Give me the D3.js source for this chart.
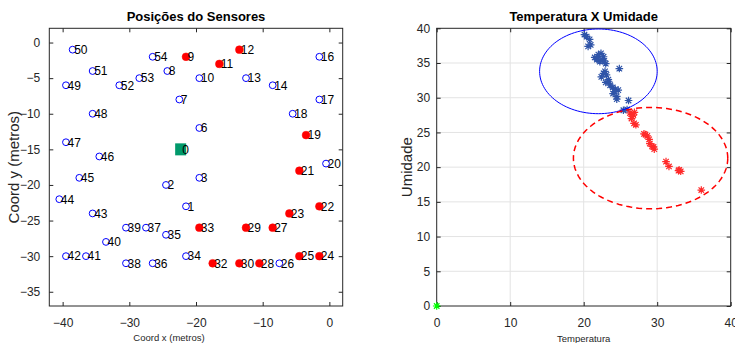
<!DOCTYPE html>
<html>
<head>
<meta charset="utf-8">
<script src="https://cdn.jsdelivr.net/npm/d3@7"></script>
<style>
body { margin: 0; background: #fff; }
text { font-family: "Liberation Sans", Arial, sans-serif; }
</style>
</head>
<body>
<div id="chart"></div>
<script>
// --- sensor layout (left panel) ---
const sensorId = [1, 2, 3, 6, 7, 8, 9, 10, 11, 12, 13, 14, 16, 17, 18, 19, 20, 21, 22, 23, 24, 25, 26, 27, 28, 29, 30,
                  32, 33, 34, 35, 36, 37, 38, 39, 40, 41, 42, 43, 44, 45, 46, 47, 48, 49, 50, 51, 52, 53, 54];
const sensorX = [-21.5, -24.5, -19.5, -19.5, -22.5, -24.3, -21.5, -19.5, -16.5, -13.5, -12.5, -8.5, -1.5, -1.5, -5.5,
                 -3.5, -0.5, -4.5, -1.5, -6, -1.5, -4.5, -7.5, -8.5, -10.5, -12.5, -13.5,
                 -17.5, -19.5, -21.5, -24.5, -26.5, -27.5, -30.5, -30.5, -33.5, -36.5, -39.5, -35.5, -40.5,
                 -37.5, -34.5, -39.5, -35.5, -39.5, -38.5, -35.5, -31.5, -28.5, -26.5];
const sensorY = [-23, -20, -19, -12, -8, -4, -2, -5, -3, -1, -5, -6, -2, -8, -10,
                 -13, -17, -18, -23, -24, -30, -30, -31, -26, -31, -26, -31,
                 -31, -26, -30, -27, -31, -26, -31, -26, -28, -30, -30, -24, -22,
                 -19, -16, -14, -10, -6, -1, -4, -6, -5, -2];
const activeSensors = [9, 11, 12, 19, 21, 22, 23, 24, 25, 27, 28, 29, 30, 32, 33];
const sinkId = 0;
const sinkPos = [-22.3, -15];

const leftXTicks = [-40, -30, -20, -10, 0];
const leftYTicks = [0, -5, -10, -15, -20, -25, -30, -35];

// --- temperature x humidity (right panel) ---
const blueTemp = [20.1, 20.4, 20.8, 20.6, 20.95, 21.5, 21.8, 22.0, 22.35, 22.7, 22.2, 21.9, 22.5, 23.0, 22.8, 24.85,
                  22.4, 22.7, 23.1, 22.9, 23.35, 23.0, 23.6, 23.4, 23.95, 24.3, 24.7, 24.0, 24.5, 24.2, 24.5, 26.1, 25.4, 25.9];
const blueHum = [39.1, 38.8, 38.4, 37.4, 37.6, 35.8, 35.5, 36.2, 36.4, 35.9, 35.2, 35.6, 35.5, 34.9, 35.3, 34.2,
                 33.0, 33.5, 33.3, 33.8, 32.6, 32.2, 31.8, 32.3, 31.5, 31.2, 31.1, 30.6, 30.2, 30.9, 29.8, 29.6, 28.2, 28.3];
const redTemp = [26.3, 26.75, 26.5, 26.9, 26.6, 26.85, 27.1, 28.2, 28.65, 28.4, 28.9, 29.0, 29.3, 29.5, 29.6,
                 31.2, 31.6, 32.9, 33.2, 33.0, 36.0];
const redHum = [27.8, 27.5, 27.0, 27.9, 27.3, 26.3, 26.1, 24.8, 24.5, 24.7, 24.0, 23.4, 23.0, 22.9, 22.6,
                20.8, 20.1, 19.5, 19.4, 19.6, 16.7];
const greenTemp = [0];
const greenHum = [0];
// cluster ellipses: [centre temp, centre hum, radius temp, radius hum]
const blueEllipse = [22, 33.8, 8, 6.1];
const redEllipse = [29.1, 21.3, 10.5, 7.3];

const rightXTicks = [0, 10, 20, 30, 40];
const rightYTicks = [0, 5, 10, 15, 20, 25, 30, 35, 40];

const width = 735, height = 343;
const axisColor = "#262626";

const svg = d3.select("#chart").append("svg")
    .attr("width", width)
    .attr("height", height)
    .style("display", "block");

// scales
const xL = d3.scaleLinear().domain([-42, 2]).range([49.3, 342.7]);
const yL = d3.scaleLinear().domain([-37, 2]).range([306, 28.3]);
const xR = d3.scaleLinear().domain([0, 40]).range([436.7, 730.7]);
const yR = d3.scaleLinear().domain([0, 40]).range([306, 28.3]);

function styleAxis(g) {
    g.select(".domain").remove();
    g.selectAll("line").attr("stroke", axisColor);
    g.selectAll("text").attr("fill", axisColor).style("font-size", "12px")
        .style("font-family", '"Liberation Sans", Arial, sans-serif');
}

function drawFrame(x, y, xTicks, yTicks, yPad) {
    const [x0, x1] = x.range(), [y0, y1] = y.range();
    svg.append("g").attr("transform", `translate(0,${y0})`)
        .call(d3.axisBottom(x).tickValues(xTicks).tickSizeInner(-4).tickSizeOuter(0).tickPadding(12))
        .call(styleAxis);
    svg.append("g").attr("transform", `translate(0,${y1})`)
        .call(d3.axisTop(x).tickValues(xTicks).tickSizeInner(-4).tickSizeOuter(0).tickFormat(""))
        .call(styleAxis);
    svg.append("g").attr("transform", `translate(${x0},0)`)
        .call(d3.axisLeft(y).tickValues(yTicks).tickSizeInner(-4).tickSizeOuter(0).tickPadding(yPad))
        .call(styleAxis);
    svg.append("g").attr("transform", `translate(${x1},0)`)
        .call(d3.axisRight(y).tickValues(yTicks).tickSizeInner(-4).tickSizeOuter(0).tickFormat(""))
        .call(styleAxis);
    svg.append("rect")
        .attr("x", x0).attr("y", y1)
        .attr("width", x1 - x0).attr("height", y0 - y1)
        .attr("fill", "none").attr("stroke", axisColor).attr("stroke-width", 1);
}

// ---------- left panel ----------
const sensors = sensorId.map((id, i) => ({id, x: sensorX[i], y: sensorY[i], on: activeSensors.includes(id)}));

drawFrame(xL, yL, leftXTicks, leftYTicks, 9);

const gS = svg.append("g");
gS.selectAll("circle")
    .data(sensors)
    .join("circle")
    .attr("cx", d => xL(d.x))
    .attr("cy", d => yL(d.y))
    .attr("r", d => d.on ? 3.9 : 3.4)
    .attr("fill", d => d.on ? "#ff0000" : "none")
    .attr("stroke", d => d.on ? "#ff0000" : "#0000ff")
    .attr("stroke-width", d => d.on ? 0.5 : 1);

gS.append("rect")
    .attr("x", xL(sinkPos[0]) - 5.5)
    .attr("y", yL(sinkPos[1]) - 6)
    .attr("width", 11).attr("height", 12)
    .attr("fill", "#00996b");

gS.selectAll("text")
    .data(sensors.concat([{id: sinkId, x: sinkPos[0], y: sinkPos[1]}]))
    .join("text")
    .attr("x", d => xL(d.x) + 1.5)
    .attr("y", d => yL(d.y))
    .attr("dy", "0.36em")
    .style("font-size", "12px")
    .attr("fill", "#000")
    .text(d => d.id);

svg.append("text")
    .attr("x", (xL.range()[0] + xL.range()[1]) / 2).attr("y", 21)
    .attr("text-anchor", "middle")
    .style("font-size", "13px").style("font-weight", "bold")
    .text("Posições do Sensores");

svg.append("text")
    .attr("x", 169).attr("y", 341)
    .attr("text-anchor", "middle")
    .attr("fill", axisColor)
    .style("font-size", "9.5px")
    .text("Coord x (metros)");

svg.append("text")
    .attr("transform", `translate(19,${(yL.range()[0] + yL.range()[1]) / 2}) rotate(-90)`)
    .attr("text-anchor", "middle")
    .attr("fill", axisColor)
    .style("font-size", "15px")
    .text("Coord y (metros)");

// ---------- right panel ----------
const gGrid = svg.append("g").attr("stroke", "#e3e3e3").attr("stroke-width", 1);
gGrid.selectAll(".gx")
    .data(rightXTicks.slice(1, -1))
    .join("line")
    .attr("x1", d => xR(d)).attr("x2", d => xR(d))
    .attr("y1", yR.range()[0]).attr("y2", yR.range()[1]);
gGrid.selectAll(".gy")
    .data(rightYTicks.slice(1, -1))
    .join("line")
    .attr("y1", d => yR(d)).attr("y2", d => yR(d))
    .attr("x1", xR.range()[0]).attr("x2", xR.range()[1]);

drawFrame(xR, yR, rightXTicks, rightYTicks, 6.5);

function star(s) {
    const d = s * 0.72;
    return `M${-s},0H${s}M0,${-s}V${s}M${-d},${-d}L${d},${d}M${-d},${d}L${d},${-d}`;
}

function drawStars(temp, hum, color) {
    svg.append("g")
        .selectAll("path")
        .data(temp.map((t, i) => [t, hum[i]]))
        .join("path")
        .attr("transform", d => `translate(${xR(d[0])},${yR(d[1])})`)
        .attr("d", star(3.8))
        .attr("fill", "none")
        .attr("stroke", color)
        .attr("stroke-width", 1.2);
}

function ellipsePath(e) {
    const pts = d3.range(0, 361, 3).map(a => {
        const t = a * Math.PI / 180;
        return [xR(e[0] + e[2] * Math.cos(t)), yR(e[1] + e[3] * Math.sin(t))];
    });
    return d3.line()(pts);
}

drawStars(blueTemp, blueHum, "#2f54a8");
drawStars(redTemp, redHum, "#ff2a2a");

svg.append("path")
    .attr("d", ellipsePath(blueEllipse))
    .attr("fill", "none").attr("stroke", "#0000ff").attr("stroke-width", 1);
svg.append("path")
    .attr("d", ellipsePath(redEllipse))
    .attr("fill", "none").attr("stroke", "#ff0000").attr("stroke-width", 1.5)
    .attr("stroke-dasharray", "6,4");

drawStars(greenTemp, greenHum, "#00ff00");

svg.append("text")
    .attr("x", (xR.range()[0] + xR.range()[1]) / 2).attr("y", 21)
    .attr("text-anchor", "middle")
    .style("font-size", "13px").style("font-weight", "bold")
    .text("Temperatura X Umidade");

svg.append("text")
    .attr("x", (xR.range()[0] + xR.range()[1]) / 2).attr("y", 342)
    .attr("text-anchor", "middle")
    .attr("fill", axisColor)
    .style("font-size", "9.5px")
    .text("Temperatura");

svg.append("text")
    .attr("transform", `translate(412,${(yR.range()[0] + yR.range()[1]) / 2}) rotate(-90)`)
    .attr("text-anchor", "middle")
    .attr("fill", axisColor)
    .style("font-size", "15px")
    .text("Umidade");
</script>
</body>
</html>
